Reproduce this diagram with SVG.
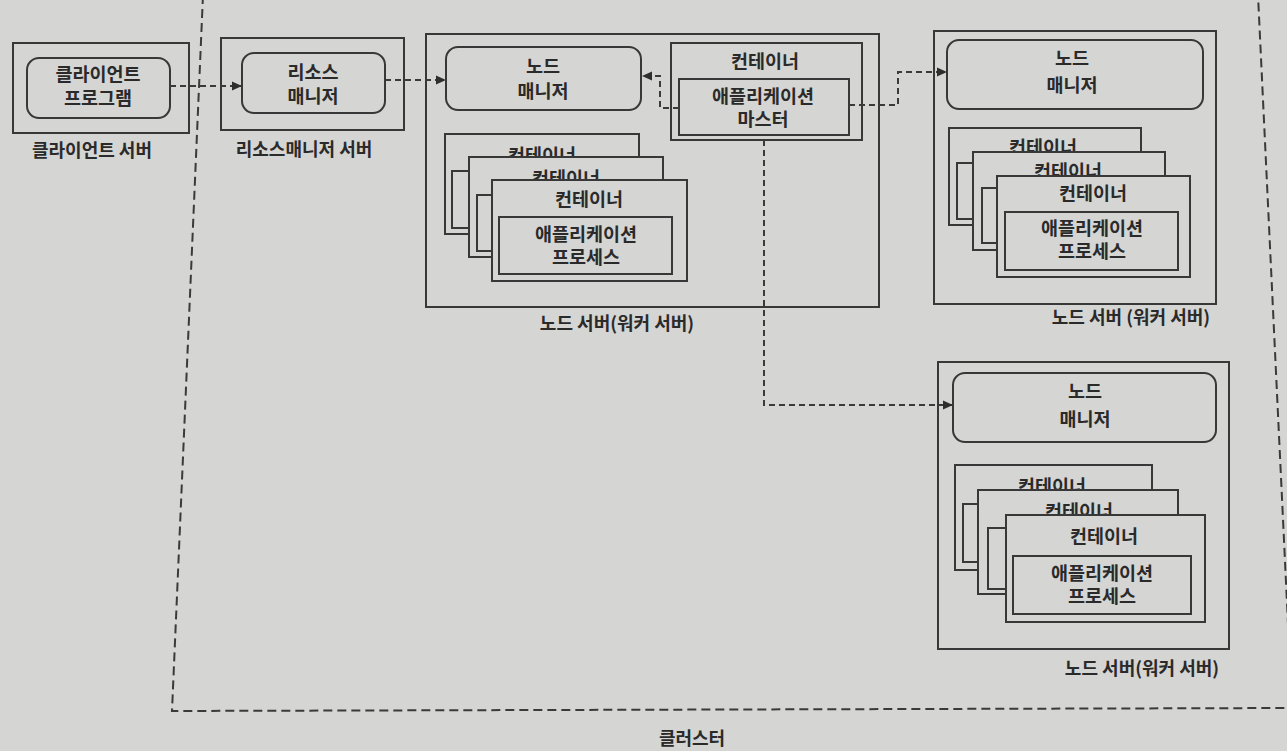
<svg xmlns="http://www.w3.org/2000/svg" width="1287" height="751" viewBox="0 0 1287 751">
  <defs>
    <style>
      .bg { fill: #d5d5d3; }
      .box { fill: #d5d5d3; stroke: #383838; stroke-width: 2; }
      .cluster { fill: none; stroke: #3a3a3a; stroke-width: 2; stroke-dasharray: 9 5; }
      .conn { fill: none; stroke: #3a3a3a; stroke-width: 2; stroke-dasharray: 6 4; }
      text { font-family: "Noto Sans CJK KR", "Noto Sans", sans-serif; fill: #2a2a2a; text-anchor: middle; }
      .t { font-size: 18.5px; font-weight: 600; }
      .lbl { font-size: 18px; font-weight: 600; }
    </style>
    <marker id="arrow" viewBox="0 0 10 10" refX="10" refY="5" markerWidth="10" markerHeight="10" markerUnits="userSpaceOnUse" orient="auto">
      <path d="M0,0.5 L10,5 L0,9.5 Z" fill="#2e2e2e"/>
    </marker>
  </defs>

  <rect class="bg" x="0" y="0" width="1287" height="751"/>

  <!-- cluster boundary -->
  <g id="cluster">
    <path class="cluster" d="M203,-5 L172,711 L1292,708 L1258,-5"/>
    <text class="lbl" x="692" y="745">클러스터</text>
  </g>

  <!-- client server -->
  <g id="client-server">
    <rect class="box" x="13" y="43" width="176" height="90"/>
    <rect class="box" x="27" y="58" width="143" height="60" rx="12"/>
    <text class="t" x="98" y="81">클라이언트</text>
    <text class="t" x="98" y="105">프로그램</text>
    <text class="lbl" x="92" y="157">클라이언트 서버</text>
  </g>

  <!-- resource manager server -->
  <g id="rm-server">
    <rect class="box" x="221" y="38" width="183" height="92"/>
    <rect class="box" x="242" y="53" width="143" height="60" rx="12"/>
    <text class="t" x="313" y="79">리소스</text>
    <text class="t" x="313" y="103">매니저</text>
    <text class="lbl" x="304" y="156">리소스매니저 서버</text>
  </g>

  <!-- node server 1 -->
  <g id="node-server-1">
    <rect class="box" x="426" y="34" width="453" height="273"/>
    <rect class="box" x="446" y="47" width="195" height="63" rx="12"/>
    <text class="t" x="543" y="73">노드</text>
    <text class="t" x="543" y="98">매니저</text>
    <!-- container stack -->
    <rect class="box" x="445" y="134" width="194" height="100"/>
    <rect class="box" x="452" y="171" width="172" height="57"/>
    <text class="t" x="542" y="162">컨테이너</text>
    <rect class="box" x="469" y="157" width="194" height="100"/>
    <rect class="box" x="477" y="195" width="172" height="56"/>
    <text class="t" x="566" y="185">컨테이너</text>
    <rect class="box" x="492" y="180" width="195" height="101"/>
    <text class="t" x="589" y="206">컨테이너</text>
    <rect class="box" x="499" y="217" width="173" height="57"/>
    <text class="t" x="586" y="241">애플리케이션</text>
    <text class="t" x="586" y="264">프로세스</text>
    <!-- application master container -->
    <rect class="box" x="671" y="43" width="191" height="97"/>
    <text class="t" x="765" y="68">컨테이너</text>
    <rect class="box" x="679" y="79" width="170" height="56"/>
    <text class="t" x="763" y="103">애플리케이션</text>
    <text class="t" x="763" y="126">마스터</text>
    <text class="lbl" x="617" y="330">노드 서버(워커 서버)</text>
  </g>

  <!-- node server 2 -->
  <g id="node-server-2">
    <rect class="box" x="934" y="31" width="282" height="273"/>
    <rect class="box" x="947" y="40" width="256" height="69" rx="12"/>
    <text class="t" x="1072" y="65">노드</text>
    <text class="t" x="1072" y="92">매니저</text>
    <rect class="box" x="949" y="128" width="192" height="97"/>
    <rect class="box" x="957" y="163" width="170" height="56"/>
    <text class="t" x="1043" y="154">컨테이너</text>
    <rect class="box" x="973" y="152" width="192" height="98"/>
    <rect class="box" x="982" y="188" width="170" height="55"/>
    <text class="t" x="1068" y="178">컨테이너</text>
    <rect class="box" x="997" y="176" width="193" height="101"/>
    <text class="t" x="1093" y="200">컨테이너</text>
    <rect class="box" x="1005" y="212" width="173" height="58"/>
    <text class="t" x="1092" y="235">애플리케이션</text>
    <text class="t" x="1092" y="258">프로세스</text>
    <text class="lbl" x="1131" y="324">노드 서버 (워커 서버)</text>
  </g>

  <!-- node server 3 -->
  <g id="node-server-3">
    <rect class="box" x="938" y="362" width="291" height="287"/>
    <rect class="box" x="953" y="373" width="263" height="69" rx="12"/>
    <text class="t" x="1085" y="398">노드</text>
    <text class="t" x="1085" y="426">매니저</text>
    <rect class="box" x="955" y="465" width="197" height="105"/>
    <rect class="box" x="963" y="504" width="175" height="58"/>
    <text class="t" x="1052" y="493">컨테이너</text>
    <rect class="box" x="978" y="490" width="200" height="104"/>
    <rect class="box" x="988" y="528" width="176" height="61"/>
    <text class="t" x="1079" y="518">컨테이너</text>
    <rect class="box" x="1006" y="515" width="199" height="107"/>
    <text class="t" x="1104" y="543">컨테이너</text>
    <rect class="box" x="1013" y="556" width="178" height="58"/>
    <text class="t" x="1102" y="580">애플리케이션</text>
    <text class="t" x="1102" y="603">프로세스</text>
    <text class="lbl" x="1142" y="675">노드 서버(워커 서버)</text>
  </g>

  <!-- connectors -->
  <g id="connectors">
    <path class="conn" d="M170,86 L242,86" marker-end="url(#arrow)"/>
    <path class="conn" d="M385,80 L446,80" marker-end="url(#arrow)"/>
    <path class="conn" d="M679,108 L660,108 L660,76 L642,76" marker-end="url(#arrow)"/>
    <path class="conn" d="M849,105 L898,105 L898,72 L947,72" marker-end="url(#arrow)"/>
    <path class="conn" d="M764,140 L764,405 L953,405" marker-end="url(#arrow)"/>
  </g>
</svg>
